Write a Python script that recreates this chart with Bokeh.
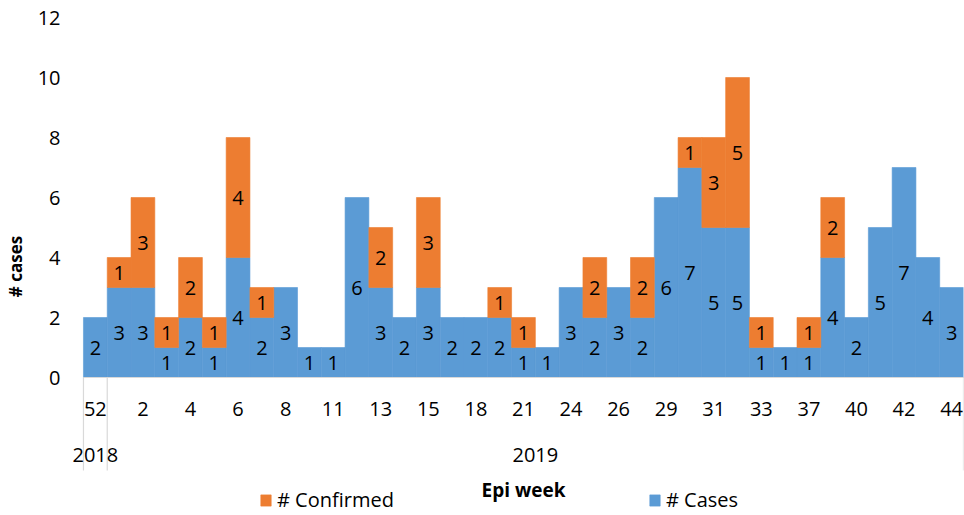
from bokeh.plotting import figure
from bokeh.models import (Range1d, FixedTicker, ColumnDataSource, Legend, LegendItem,
                          CDSView, BooleanFilter)
from bokeh.core.properties import value
from bokeh.embed import file_html
from bokeh.resources import INLINE

# Epi weeks with reported cases (weeks without any case are not listed)
weeks = [52, 1, 2, 3, 4, 5, 6, 7, 8, 10, 11, 12, 13, 14, 15, 17, 18, 20, 21,
         23, 24, 25, 26, 28, 29, 30, 31, 32, 33, 35, 37, 39, 40, 41, 42, 43, 44]
years = [2018] + [2019] * 36
cases = [2, 3, 3, 1, 2, 1, 4, 2, 3, 1, 1, 6, 3, 2, 3, 2, 2, 2, 1,
         1, 3, 2, 3, 2, 6, 7, 5, 5, 1, 1, 1, 4, 2, 5, 7, 4, 3]
confirmed = [0, 1, 3, 1, 2, 1, 4, 1, 0, 0, 0, 0, 2, 0, 3, 0, 0, 1, 1,
             0, 0, 2, 0, 2, 0, 1, 3, 5, 1, 0, 1, 2, 0, 0, 0, 0, 0]
y_ticks = [0, 2, 4, 6, 8, 10, 12]

BLUE = "#5B9BD5"
ORANGE = "#ED7D31"
RULE = "#D9D9D9"
FONT = "Open Sans"
TXT = "#000000"

n = len(weeks)
xs = list(range(n))
total = [c + f for c, f in zip(cases, confirmed)]

src = ColumnDataSource(dict(
    x=xs,
    cases=cases,
    confirmed=confirmed,
    total=total,
    cases_mid=[c / 2 for c in cases],
    conf_mid=[c + f / 2 for c, f in zip(cases, confirmed)],
    cases_txt=[str(c) for c in cases],
    conf_txt=[str(f) for f in confirmed],
))
has_conf = CDSView(filter=BooleanFilter([f > 0 for f in confirmed]))

# the frame starts a little left of the first bar so the first year label fits
bar_px = 882 / n
left_pad = 19 / bar_px

p = figure(width=964, height=515,
           x_range=Range1d(-0.5 - left_pad, n - 0.5),
           y_range=Range1d(-4.6, 12),
           output_backend="svg", toolbar_location=None,
           x_axis_location=None,
           min_border_left=62, min_border_right=1,
           min_border_top=17, min_border_bottom=0)
p.outline_line_color = None
p.xgrid.visible = False
p.ygrid.visible = False
p.background_fill_color = "white"
p.border_fill_color = "white"

# value axis
p.yaxis.ticker = FixedTicker(ticks=y_ticks)
p.yaxis.axis_line_color = None
p.yaxis.major_tick_line_color = None
p.yaxis.minor_tick_line_color = None
p.yaxis.major_tick_out = 0
p.yaxis.major_tick_in = 0
p.yaxis.major_label_standoff = 4
p.yaxis.major_label_text_font = FONT
p.yaxis.major_label_text_font_size = "20px"
p.yaxis.major_label_text_color = TXT
p.yaxis.axis_label = "# cases"
p.yaxis.axis_label_text_font = FONT
p.yaxis.axis_label_text_font_size = "17px"
p.yaxis.axis_label_text_font_style = "bold"
p.yaxis.axis_label_text_color = TXT
p.yaxis.axis_label_standoff = 8

# stacked bars
r_cases = p.vbar(x="x", bottom=0, top="cases", width=1.0, source=src,
                 fill_color=BLUE, line_color=BLUE, line_width=0.6)
r_conf = p.vbar(x="x", bottom="cases", top="total", width=1.0, source=src, view=has_conf,
                fill_color=ORANGE, line_color=ORANGE, line_width=0.6)

# category axis line and group dividers
p.segment(x0=[-0.5], y0=[0], x1=[n - 0.5], y1=[0], line_color=RULE, line_width=1.2)
bounds = [-0.5]
for i in range(1, n):
    if years[i] != years[i - 1]:
        bounds.append(i - 0.5)
bounds.append(n - 0.5)
p.segment(x0=bounds, y0=[0] * len(bounds), x1=bounds, y1=[-3.1] * len(bounds),
          line_color=RULE, line_width=1.2)

# data labels
p.text(x="x", y="cases_mid", text="cases_txt", source=src,
       text_font=value(FONT), text_font_size="20px", text_color=TXT,
       text_align="center", text_baseline="middle")
p.text(x="x", y="conf_mid", text="conf_txt", source=src, view=has_conf,
       text_font=value(FONT), text_font_size="20px", text_color=TXT,
       text_align="center", text_baseline="middle")

# week labels (every second week) and year group labels
wk_x = xs[::2]
wk_lbl = [str(w) for w in weeks[::2]]
p.text(x=wk_x, y=[-1.05] * len(wk_x), text=wk_lbl,
       text_font=value(FONT), text_font_size="20px", text_color=TXT,
       text_align="center", text_baseline="middle")

yr_names = []
yr_pos = []
for yv in sorted(set(years)):
    idx = [i for i, v in enumerate(years) if v == yv]
    yr_names.append(str(yv))
    yr_pos.append(sum(idx) / len(idx))
p.text(x=yr_pos, y=[-2.58] * len(yr_pos), text=yr_names,
       text_font=value(FONT), text_font_size="20px", text_color=TXT,
       text_align="center", text_baseline="middle")

# category axis title
p.text(x=[(n - 1) / 2], y=[-3.75], text=["Epi week"],
       text_font=value(FONT), text_font_size="19px", text_font_style="bold",
       text_color=TXT, text_align="center", text_baseline="middle")

legend = Legend(items=[LegendItem(label="# Confirmed", renderers=[r_conf]),
                       LegendItem(label="# Cases", renderers=[r_cases])],
                orientation="horizontal", location=(195, 2),
                glyph_width=13, glyph_height=14, label_standoff=5, spacing=254,
                label_height=14,
                padding=0, margin=0, border_line_color=None,
                background_fill_alpha=0,
                label_text_font=FONT, label_text_font_size="20px",
                label_text_color=TXT)
p.add_layout(legend, "center")

open("out.html", "w").write(file_html(p, INLINE))
